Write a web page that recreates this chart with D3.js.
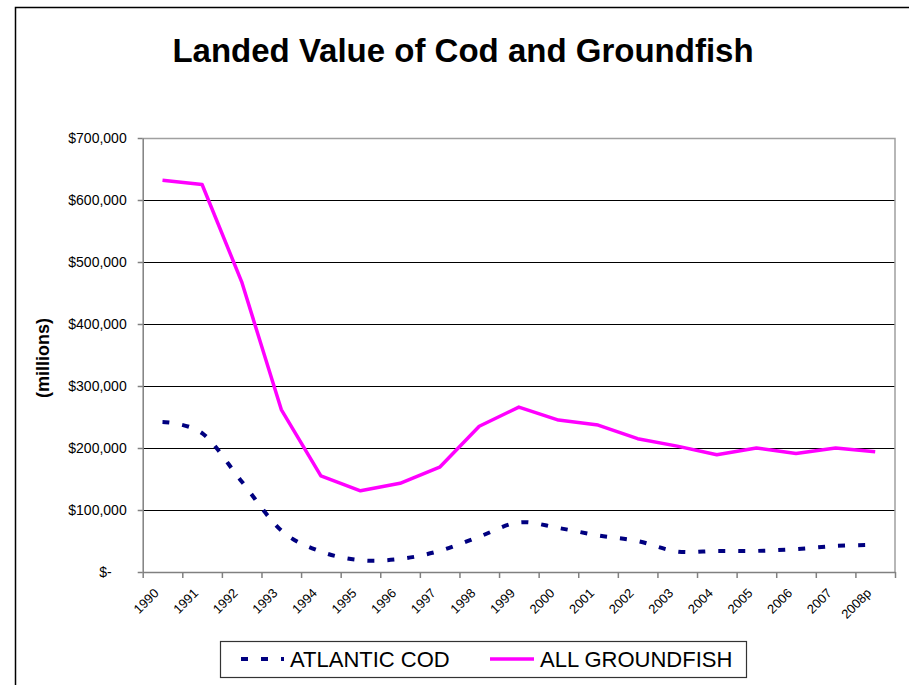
<!DOCTYPE html>
<meta charset="utf-8">
<style>
    body {
        margin: 0;
        background: #fff;
    }

    svg {
        font-family: "Liberation Sans", Arial, sans-serif;
    }

    .grid line {
        stroke: #000;
        stroke-width: 1px;
    }

    .axis path,
    .axis line {
        stroke: #808080;
        stroke-width: 1.5px;
    }

    .axis text {
        fill: #000;
    }
</style>

<body>
    <script src="https://cdn.jsdelivr.net/npm/d3@7"></script>

    <script>

        // data
        var years = ["1990", "1991", "1992", "1993", "1994", "1995", "1996", "1997", "1998", "1999",
            "2000", "2001", "2002", "2003", "2004", "2005", "2006", "2007", "2008p"];

        var atlanticCod = [242000, 224000, 146000, 67000, 33000, 19000, 21000, 34000, 57000, 80000,
            71000, 59000, 50000, 33000, 34000, 34000, 37000, 42000, 44000];

        var allGroundfish = [632000, 625000, 468000, 262000, 155000, 131000, 143000, 169000, 235000, 266000,
            245000, 237000, 215000, 203000, 189000, 200000, 191000, 200000, 194000];

        var yTicks = [0, 100000, 200000, 300000, 400000, 500000, 600000, 700000];

        var width = 909,
            height = 685,
            plotLeft = 142.7,
            plotRight = 895,
            plotTop = 138,
            plotBottom = 572;

        var x = d3.scaleBand()
            .domain(years)
            .range([plotLeft, plotRight]);

        // category boundaries for the tick marks
        var xEdge = d3.scaleLinear()
            .domain([0, years.length])
            .range([plotLeft, plotRight]);

        var y = d3.scaleLinear()
            .domain([0, 700000])
            .range([plotBottom, plotTop]);

        var svg = d3.select("body").append("svg")
            .attr("width", width)
            .attr("height", height);

        // outer chart frame (runs off the picture on the right and bottom)
        svg.append("rect")
            .attr("x", 15.5)
            .attr("y", 7.5)
            .attr("width", 1000)
            .attr("height", 1000)
            .attr("fill", "none")
            .attr("stroke", "#000")
            .attr("stroke-width", 1.5);

        svg.append("text")
            .attr("x", 463)
            .attr("y", 62)
            .attr("text-anchor", "middle")
            .style("font-size", "33px")
            .style("font-weight", "bold")
            .text("Landed Value of Cod and Groundfish");

        // gridlines
        svg.append("g")
            .attr("class", "grid")
            .selectAll("line")
            .data(yTicks.slice(1, -1))
            .enter().append("line")
            .attr("x1", plotLeft)
            .attr("x2", plotRight)
            .attr("y1", function (d) { return Math.round(y(d)) + 0.5; })
            .attr("y2", function (d) { return Math.round(y(d)) + 0.5; });

        // plot area border, top and right
        svg.append("path")
            .attr("d", "M" + plotLeft + "," + (plotTop + 0.5) + "H" + plotRight + "V" + plotBottom)
            .attr("fill", "none")
            .attr("stroke", "#a0a0a0")
            .attr("stroke-width", 1.5);

        var yAxis = svg.append("g")
            .attr("class", "axis")
            .attr("transform", "translate(" + plotLeft + ",0)")
            .call(d3.axisLeft(y)
                .tickValues(yTicks)
                .tickSize(5)
                .tickSizeOuter(0)
                .tickPadding(11)
                .tickFormat(function (d) { return d === 0 ? "$-" : "$" + d3.format(",")(d); }));

        yAxis.selectAll("text")
            .style("font-size", "14px")
            .style("font-family", "Liberation Sans, Arial, sans-serif")
            .attr("dx", function (d) { return d === 0 ? -15 : 0; });

        svg.append("g")
            .attr("class", "axis")
            .attr("transform", "translate(0," + plotBottom + ")")
            .call(d3.axisBottom(xEdge)
                .tickValues(d3.range(years.length + 1))
                .tickSize(6)
                .tickSizeOuter(0)
                .tickFormat(""));

        svg.append("g")
            .selectAll("text")
            .data(years)
            .enter().append("text")
            .attr("transform", function (d) {
                return "translate(" + (x(d) + x.bandwidth() / 2 - 3) + "," + (plotBottom + 22) + ") rotate(-45)";
            })
            .attr("text-anchor", "end")
            .style("font-size", "13px")
            .text(function (d) { return d; });

        svg.append("text")
            .attr("transform", "translate(49,358) rotate(-90)")
            .attr("text-anchor", "middle")
            .style("font-size", "18px")
            .style("font-weight", "bold")
            .text("(millions)");

        var codLine = d3.line()
            .x(function (d, i) { return x(years[i]) + x.bandwidth() / 2; })
            .y(function (d) { return y(d); })
            .curve(d3.curveCardinal.tension(0));

        var fishLine = d3.line()
            .x(function (d, i) { return x(years[i]) + x.bandwidth() / 2; })
            .y(function (d) { return y(d); });

        svg.append("path")
            .datum(atlanticCod)
            .attr("d", codLine)
            .attr("fill", "none")
            .attr("stroke", "#000080")
            .attr("stroke-width", 4)
            .attr("stroke-dasharray", "7,13");

        svg.append("path")
            .datum(allGroundfish)
            .attr("d", fishLine)
            .attr("fill", "none")
            .attr("stroke", "#ff00ff")
            .attr("stroke-width", 3.5)
            .attr("stroke-linejoin", "round");

        // legend
        var legend = svg.append("g");

        legend.append("rect")
            .attr("x", 220.5)
            .attr("y", 641.5)
            .attr("width", 526)
            .attr("height", 36)
            .attr("fill", "#fff")
            .attr("stroke", "#333")
            .attr("stroke-width", 1.2);

        legend.append("line")
            .attr("x1", 241).attr("x2", 284)
            .attr("y1", 659).attr("y2", 659)
            .attr("stroke", "#000080")
            .attr("stroke-width", 4)
            .attr("stroke-dasharray", "7,13");

        legend.append("text")
            .attr("x", 290)
            .attr("y", 667)
            .style("font-size", "22px")
            .text("ATLANTIC COD");

        legend.append("line")
            .attr("x1", 490).attr("x2", 534)
            .attr("y1", 659).attr("y2", 659)
            .attr("stroke", "#ff00ff")
            .attr("stroke-width", 3.5);

        legend.append("text")
            .attr("x", 540)
            .attr("y", 667)
            .style("font-size", "22px")
            .text("ALL GROUNDFISH");

    </script>

</body>

</html>
